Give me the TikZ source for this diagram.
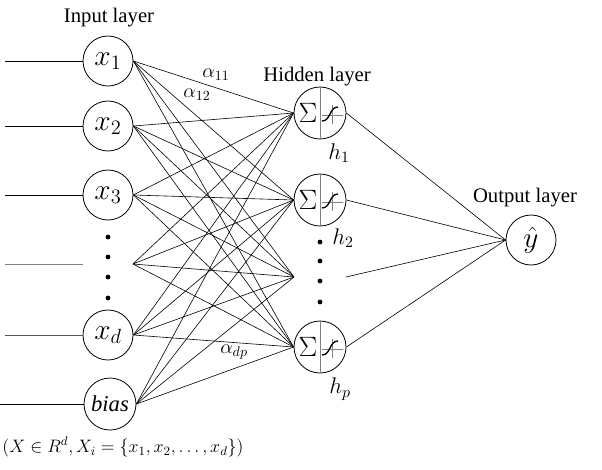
\RequirePackage{fix-cm}
\documentclass[tikz,border=0pt]{standalone}
\usepackage{fontspec}
\setmainfont{Liberation Serif}
\usetikzlibrary{calc}
\begin{document}
\begin{tikzpicture}[x=0.75pt,y=-0.75pt,
  neuron/.style={draw,circle,minimum size=37.5pt,inner sep=0pt,line width=0.6pt},
  hid/.style={draw,circle,minimum size=39pt,inner sep=0pt,line width=0.6pt},
  conn/.style={line width=0.45pt},
  inp/.style={line width=0.6pt},
  layerlbl/.style={font=\fontsize{15.5}{17}\selectfont},
  wlbl/.style={font=\fontsize{15}{16}\selectfont,inner sep=0pt},
  hlbl/.style={font=\fontsize{17}{19}\selectfont,inner sep=0pt},
  dotmark/.style={fill=black,circle,inner sep=0pt,minimum size=3.6pt}]
\useasboundingbox (0,0) rectangle (602,469);

% input layer
\node[neuron] (x1) at (108,61) {\fontsize{22}{22}\selectfont$x_{1}$};
\node[neuron] (x2) at (108,126) {\fontsize{22}{22}\selectfont$x_{2}$};
\node[neuron] (x3) at (108,195) {\fontsize{22}{22}\selectfont$x_{3}$};
\coordinate (g4) at (133,264);
\coordinate (g4w) at (83,264);
\node[neuron] (xd) at (108,335) {\fontsize{22}{22}\selectfont$x_{d}$};
\node[neuron,minimum size=39pt] (b) at (110,404) {\fontsize{17}{17}\selectfont\textit{bias}};

\coordinate (l1) at (5,61);
\coordinate (l2) at (5,126);
\coordinate (l3) at (5,195);
\coordinate (l4) at (5,264);
\coordinate (ld) at (5,335);
\coordinate (lb) at (0,404);
\draw[inp] (l1) -- (x1.west);
\draw[inp] (l2) -- (x2.west);
\draw[inp] (l3) -- (x3.west);
\draw[inp,gray] (l4) -- (g4w);
\draw[inp,gray!70!black] (ld) -- (xd.west);
\draw[inp] (lb) -- (b.west);

\foreach \y [count=\k] in {237,257,277,298} \node[dotmark] (di\k) at (108,\y) {};

% hidden layer
\node[hid] (h1) at (320,113) {};
\node[hid] (h2) at (320,200) {};
\node[hid] (hp) at (320,347) {};
\coordinate (hgi) at (294,277);
\coordinate (hgo) at (346,277);
\foreach \y [count=\k] in {242,261,281,302} \node[dotmark] (dh\k) at (320,\y) {};

\foreach \h in {h1,h2,hp}{
  \draw[gray,line width=0.6pt] (\h.north) -- (\h.south);
  \node[inner sep=0pt] at ($(\h)+(-12,0)$) {\fontsize{21}{21}\selectfont$\Sigma$};
  \draw[gray,line width=0.7pt] ($(\h)+(2,2)$) -- ($(\h)+(23,2)$);
  \draw[gray,line width=0.7pt] ($(\h)+(12,-8)$) -- ($(\h)+(12,11)$);
  \draw[line width=1pt] ($(\h)+(2,8)$) .. controls ($(\h)+(11,8)$) and ($(\h)+(9,-6)$) .. ($(\h)+(18,-6)$);
}

% output
\node[neuron] (out) at (531,240) {\fontsize{22}{22}\selectfont$\hat{y}$};

% connections input -> hidden
\foreach \i in {x1,x2,x3,xd,b}{
  \foreach \j in {h1,h2,hp}{
    \draw[conn] (\i.east) -- (\j.west);
  }
  \draw[conn] (\i.east) -- (hgi);
}
\foreach \j in {h1,h2,hp}{
  \draw[conn] (g4) -- (\j.west);
}
\draw[conn] (g4) -- (hgi);

% hidden -> output
\foreach \j in {h1,h2,hp}{
  \draw[conn] (\j.east) -- (out.west);
}
\draw[conn] (hgo) -- (out.west);

% labels
\node[layerlbl] (tin) at (109,18) {Input layer};
\node[layerlbl] (thid) at (317,77) {Hidden layer};
\node[layerlbl] (tout) at (525,198) {Output layer};

\node[hlbl] (th1) at (339,153) {$h_{1}$};
\node[hlbl] (th2) at (343,238) {$h_{2}$};
\node[hlbl] (thp) at (340,389) {$h_{p}$};

\node[wlbl] (a11) at (216,75) {$\alpha_{11}$};
\node[wlbl] (a12) at (197,95) {$\alpha_{12}$};
\node[wlbl] (adp) at (234,352) {$\alpha_{dp}$};

\node[font=\fontsize{13.5}{16}\selectfont,inner sep=0pt] (form) at (123,447) {$(X\in R^{d}, X_{i}=\{x_{1},x_{2},\ldots,x_{d}\})$};
\end{tikzpicture}
\end{document}
